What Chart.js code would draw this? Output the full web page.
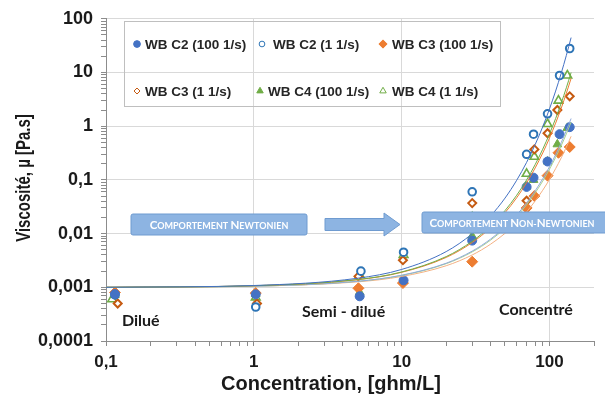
<!DOCTYPE html>
<html>
<head>
<meta charset="utf-8">
<script src="https://cdn.jsdelivr.net/npm/chart.js@4"></script>
<style>
  html, body { margin: 0; padding: 0; background: #fff; }
  #wrap { width: 605px; height: 400px; }
</style>
</head>
<body>
<div id="wrap"><canvas id="myChart" width="605" height="400"></canvas></div>
<script>
const xC2_100 = [0.115, 1.03, 5.2, 10.3, 30, 70, 78, 97, 117, 137];
const yC2_100 = [0.00075, 0.00074, 0.00068, 0.00135, 0.0074, 0.074, 0.11, 0.22, 0.71, 0.96];
const xC2_1 = [0.115, 1.03, 5.3, 10.3, 30, 70, 78, 97, 117, 137];
const yC2_1 = [0.00072, 0.00043, 0.0020, 0.0045, 0.06, 0.30, 0.71, 1.7, 8.8, 28];
const xC3_100 = [0.115, 1.03, 5.1, 10.2, 30, 70, 79, 97, 115, 137];
const yC3_100 = [0.0008, 0.00078, 0.00096, 0.0012, 0.003, 0.030, 0.050, 0.12, 0.32, 0.41];
const xC3_1 = [0.12, 1.05, 5.1, 10.2, 30, 70, 79, 97, 113, 137];
const yC3_1 = [0.0005, 0.0005, 0.0016, 0.0032, 0.037, 0.041, 0.37, 0.74, 2.0, 3.6];
const xC4_100 = [0.115, 1.03, 5.2, 10.3, 30, 70, 78, 97, 113, 132];
const yC4_100 = [0.00072, 0.00075, 0.00081, 0.0013, 0.009, 0.075, 0.10, 0.22, 0.46, 0.93];
const xC4_1 = [0.11, 1.03, 5.2, 10.3, 30, 70, 79, 97, 115, 132];
const yC4_1 = [0.0006, 0.00065, 0.0017, 0.0040, 0.02, 0.13, 0.27, 1.1, 3.0, 8.8];

// courbes de tendance
const fitX = [0.1, 1, 5, 10, 20, 30, 40, 50, 60, 70, 80, 90, 100, 110, 120, 130, 140];
const fitC2_1 = [0.001, 0.00108, 0.00147, 0.00215, 0.00462, 0.00994, 0.0214, 0.0458, 0.0985, 0.212, 0.455, 0.977, 2.10, 4.51, 9.69, 20.8, 44.7];
const fitC4_1 = [0.001, 0.00107, 0.00139, 0.00193, 0.00373, 0.0072, 0.0139, 0.0268, 0.0518, 0.100, 0.193, 0.373, 0.72, 1.39, 2.69, 5.19, 10.0];
const fitC3_1 = [0.001, 0.00107, 0.00138, 0.00190, 0.00360, 0.00682, 0.0129, 0.0245, 0.0465, 0.0882, 0.167, 0.317, 0.602, 1.14, 2.16, 4.10, 7.78];
const fitC2_100 = [0.001, 0.00105, 0.00129, 0.00168, 0.00281, 0.00472, 0.00792, 0.0133, 0.0223, 0.0373, 0.0626, 0.105, 0.176, 0.295, 0.494, 0.830, 1.39];
const fitC4_100 = [0.001, 0.00105, 0.00129, 0.00166, 0.00275, 0.00456, 0.00757, 0.0126, 0.0208, 0.0345, 0.0573, 0.0950, 0.158, 0.262, 0.434, 0.720, 1.19];
const fitC3_100 = [0.001, 0.00105, 0.00126, 0.00159, 0.00252, 0.00400, 0.00636, 0.0101, 0.0160, 0.0254, 0.0404, 0.0642, 0.102, 0.162, 0.257, 0.408, 0.648];

const xTickLabels = ['0,1', '1', '10', '100'];      // 10^-1 .. 10^2
const yTickLabels = ['0,0001', '0,001', '0,01', '0,1', '1', '10', '100']; // 10^-4 .. 10^2

const seriesNames = ['WB C2 (100 1/s)', 'WB C2 (1 1/s)', 'WB C3 (100 1/s)', 'WB C3 (1 1/s)', 'WB C4 (100 1/s)', 'WB C4 (1 1/s)'];

function pts(xs, ys) {
    return xs.map((x, i) => ({ x: x, y: ys[i] }));
}

function expOf(v) {
    const e = Math.log10(v);
    return Math.abs(e - Math.round(e)) < 1e-6 ? Math.round(e) : null;
}

function dropHalf(scale) {
    // enlever les ticks 1.5, 15, ... ajoutés par chart.js
    scale.ticks = scale.ticks.filter(t => {
        const m = t.value / Math.pow(10, Math.floor(Math.log10(t.value) + 1e-9));
        return Math.abs(m - 1.5) > 1e-6;
    });
}

const markers = [
    { pointStyle: 'circle', radius: 4.5, backgroundColor: '#4472C4', borderColor: '#4472C4', borderWidth: 1 },
    { pointStyle: 'circle', radius: 3.8, backgroundColor: '#ffffff', borderColor: '#2E75B6', borderWidth: 2 },
    { pointStyle: 'rectRot', radius: 5.5, backgroundColor: '#ED7D31', borderColor: '#ED7D31', borderWidth: 1 },
    { pointStyle: 'rectRot', radius: 4, backgroundColor: '#ffffff', borderColor: '#C55A11', borderWidth: 2 },
    { pointStyle: 'triangle', radius: 5, backgroundColor: '#70AD47', borderColor: '#70AD47', borderWidth: 1 },
    { pointStyle: 'triangle', radius: 5, backgroundColor: '#ffffff', borderColor: '#70AD47', borderWidth: 1.6 }
];

function scatterSet(i, data) {
    const m = markers[i];
    return {
        label: seriesNames[i],
        data: data,
        showLine: false,
        order: 2,
        pointStyle: m.pointStyle,
        pointRadius: m.radius,
        pointBackgroundColor: m.backgroundColor,
        pointBorderColor: m.borderColor,
        pointBorderWidth: m.borderWidth
    };
}

function fitSet(ys, color) {
    return {
        label: 'fit',
        data: pts(fitX, ys),
        showLine: true,
        order: 1,
        borderColor: color,
        borderWidth: 1,
        pointRadius: 0,
        cubicInterpolationMode: 'monotone',
        fill: false
    };
}

function smallCaps(ctx, text, cx, cy, big, small) {
    const parts = text.split('').map(ch => {
        const up = ch === ch.toUpperCase() && ch !== ' ';
        return { ch: ch.toUpperCase(), size: (up && /[A-Z]/.test(ch)) ? big : small };
    });
    let w = 0;
    parts.forEach(p => {
        ctx.font = 'bold ' + p.size + 'px Lato';
        p.w = ctx.measureText(p.ch).width;
        w += p.w;
    });
    let x = cx - w / 2;
    ctx.textAlign = 'left';
    ctx.textBaseline = 'alphabetic';
    parts.forEach(p => {
        ctx.font = 'bold ' + p.size + 'px Lato';
        ctx.fillText(p.ch, x, cy);
        x += p.w;
    });
}

function box(ctx, x, y, w, h) {
    ctx.fillStyle = '#8DB4E2';
    ctx.strokeStyle = '#6F9BD0';
    ctx.lineWidth = 1;
    ctx.beginPath();
    ctx.roundRect(x, y, w, h, 2);
    ctx.fill();
    ctx.stroke();
}

const decorPlugin = {
    id: 'decor',
    afterDraw(chart) {
        const ctx = chart.ctx;
        ctx.save();

        // légende
        ctx.strokeStyle = '#bfbfbf';
        ctx.lineWidth = 1;
        ctx.strokeRect(124.5, 21.5, 376, 85);
        const legPos = [
            [137, 44, 145], [262, 44, 273], [383, 44, 392],
            [137, 91, 145], [260, 91, 268], [383, 91, 392]
        ];
        const order = [0, 1, 2, 3, 4, 5];
        order.forEach((i, k) => {
            const m = markers[i];
            const p = legPos[k];
            ctx.fillStyle = m.backgroundColor;
            ctx.strokeStyle = m.borderColor;
            Chart.helpers.drawPoint(ctx, {
                pointStyle: m.pointStyle,
                radius: m.radius * 0.75,
                rotation: 0,
                borderWidth: m.borderWidth
            }, p[0], p[1]);
            ctx.fillStyle = '#262626';
            ctx.font = 'bold 13.5px "Liberation Sans"';
            ctx.textAlign = 'left';
            ctx.textBaseline = 'middle';
            ctx.fillText(seriesNames[i], p[2], p[1] + 1);
        });

        // zones
        ctx.fillStyle = '#1a1a1a';
        ctx.font = 'bold 16px Lato';
        ctx.textAlign = 'left';
        ctx.textBaseline = 'middle';
        ctx.fillText('Dilué', 122, 321);
        ctx.fillText('Semi - dilué', 302, 312);
        ctx.fillText('Concentré', 499, 310);

        // boîtes de comportement
        box(ctx, 131, 214, 176, 21);
        ctx.fillStyle = '#ffffff';
        smallCaps(ctx, 'Comportement Newtonien', 219, 229, 11.5, 9);

        ctx.fillStyle = '#8DB4E2';
        ctx.strokeStyle = '#6F9BD0';
        ctx.beginPath();
        ctx.moveTo(325, 218.5);
        ctx.lineTo(384, 218.5);
        ctx.lineTo(384, 213);
        ctx.lineTo(400, 224.5);
        ctx.lineTo(384, 236);
        ctx.lineTo(384, 230.5);
        ctx.lineTo(325, 230.5);
        ctx.closePath();
        ctx.fill();
        ctx.stroke();

        box(ctx, 422, 212, 190, 21);
        ctx.fillStyle = '#ffffff';
        smallCaps(ctx, 'Comportement Non-Newtonien', 512, 227, 11.5, 9);

        // titres des axes
        ctx.fillStyle = '#1a1a1a';
        ctx.font = 'bold 20px "Liberation Sans"';
        ctx.textAlign = 'center';
        ctx.textBaseline = 'middle';
        ctx.fillText('Concentration, [ghm/L]', 331, 384);

        ctx.translate(25, 178);
        ctx.rotate(-Math.PI / 2);
        ctx.scale(1, 1.3);
        ctx.font = 'bold 15px "Liberation Sans"';
        ctx.fillText('Viscosité, µ [Pa.s]', 0, 0);

        ctx.restore();
    }
};

const ctx = document.getElementById('myChart');

const config = {
    type: 'scatter',
    data: {
        datasets: [
            scatterSet(0, pts(xC2_100, yC2_100)),
            scatterSet(1, pts(xC2_1, yC2_1)),
            scatterSet(2, pts(xC3_100, yC3_100)),
            scatterSet(3, pts(xC3_1, yC3_1)),
            scatterSet(4, pts(xC4_100, yC4_100)),
            scatterSet(5, pts(xC4_1, yC4_1)),
            fitSet(fitC2_1, '#4472C4'),
            fitSet(fitC4_1, '#70AD47'),
            fitSet(fitC3_1, '#ED7D31'),
            fitSet(fitC2_100, '#8FAADC'),
            fitSet(fitC4_100, '#A9D18E'),
            fitSet(fitC3_100, '#F4B183')
        ]
    },
    options: {
        responsive: false,
        animation: false,
        layout: { padding: { left: 10, right: 11, top: 17, bottom: 0 } },
        plugins: {
            legend: { display: false },
            tooltip: { enabled: false }
        },
        scales: {
            x: {
                type: 'logarithmic',
                min: 0.1,
                max: 200,
                afterBuildTicks: dropHalf,
                afterFit: s => { s.height = 59; },
                border: { color: '#8c8c8c' },
                grid: {
                    color: c => (c.tick && expOf(c.tick.value) !== null) ? '#d9d9d9' : 'rgba(0,0,0,0)',
                    tickColor: '#8c8c8c',
                    tickLength: 5
                },
                ticks: {
                    autoSkip: false,
                    maxRotation: 0,
                    padding: 6,
                    color: '#1a1a1a',
                    font: { family: 'Liberation Sans', size: 17, weight: 'bold' },
                    callback: v => {
                        const e = expOf(v);
                        return e === null ? '' : (xTickLabels[e + 1] || '');
                    }
                }
            },
            y: {
                type: 'logarithmic',
                min: 0.0001,
                max: 100,
                afterBuildTicks: dropHalf,
                afterFit: s => { s.width = 96; },
                border: { color: '#8c8c8c' },
                grid: {
                    color: c => (c.tick && expOf(c.tick.value) !== null) ? '#d9d9d9' : 'rgba(0,0,0,0)',
                    tickColor: '#8c8c8c',
                    tickLength: 5
                },
                ticks: {
                    autoSkip: false,
                    padding: 8,
                    color: '#1a1a1a',
                    font: { family: 'Liberation Sans', size: 18, weight: 'bold' },
                    callback: v => {
                        const e = expOf(v);
                        return e === null ? '' : (yTickLabels[e + 4] || '');
                    }
                }
            }
        }
    },
    plugins: [decorPlugin]
};

const myChart = new Chart(ctx, config);
</script>
</body>
</html>
